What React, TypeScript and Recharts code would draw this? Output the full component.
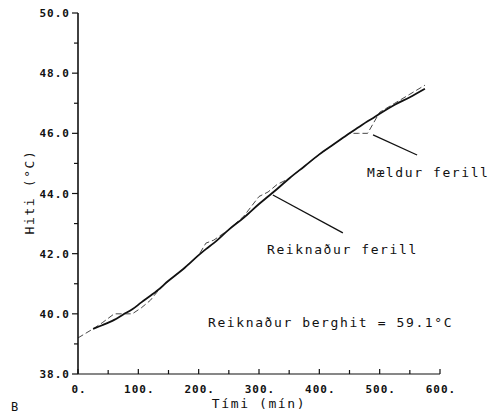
import { LineChart, Line, XAxis, YAxis, ReferenceLine } from 'recharts';

// time (min)
const timeMin = [0, 25, 40, 60, 75, 90, 105, 120, 130, 150, 175, 200, 212, 225, 250, 275, 300, 315, 330, 350, 375, 400, 425, 450, 465, 480, 490, 500, 525, 550, 575];
// Reiknaður ferill (solid)
const calculated = [null, 39.5, 39.62, 39.8, 39.98, 40.15, 40.38, 40.6, 40.75, 41.1, 41.5, 41.95, 42.15, 42.35, 42.8, 43.2, 43.65, 43.9, 44.15, 44.5, 44.9, 45.3, 45.65, 46.0, 46.2, 46.4, 46.52, 46.65, 46.95, 47.2, 47.48];
// Mældur ferill (dashed)
const measured = [39.2, 39.5, 39.7, 40.0, 40.0, 40.0, 40.2, 40.45, 40.7, 41.1, 41.5, 41.95, 42.35, 42.45, 42.8, 43.25, 43.9, 44.05, 44.3, 44.5, 44.9, 45.3, 45.65, 46.0, 46.0, 46.0, 46.35, 46.7, 47.0, 47.3, 47.6];

const xTicks = [0, 50, 100, 150, 200, 250, 300, 350, 400, 450, 500, 550, 600];
const yTicks = [38, 39, 40, 41, 42, 43, 44, 45, 46, 47, 48, 49, 50];

// leader lines [t, value] pairs
const measuredLeader = [{ x: 489, y: 45.95 }, { x: 562, y: 45.28 }];
const calculatedLeader = [{ x: 323, y: 43.95 }, { x: 439, y: 42.69 }];

const data = timeMin.map((t, i) => ({ t, calc: calculated[i], meas: measured[i] }));

const INK = '#111';
const plotFont = { fontFamily: '"DejaVu Sans Mono", monospace', fill: INK };

const XTick = (props: any) => {
  const { x, y, payload } = props;
  const v = payload.value;
  const major = v % 100 === 0;
  return (
    <g>
      <line x1={x} x2={x} y1={y} y2={y - (major ? 5 : 4)} stroke={INK} strokeWidth={1.2} />
      {major && (
        <text x={x + 1} y={y + 19} textAnchor="middle" fontSize={11} fontWeight="bold" letterSpacing={1} {...plotFont}>
          {`${v}.`}
        </text>
      )}
    </g>
  );
};

const YTick = (props: any) => {
  const { x, y, payload } = props;
  const v = payload.value;
  const major = v % 2 === 0;
  return (
    <g>
      <line x1={x} x2={x - (major ? 6 : 4)} y1={y} y2={y} stroke={INK} strokeWidth={1.2} />
      {major && (
        <text x={x - 8} y={y + 4} textAnchor="end" fontSize={11} fontWeight="bold" letterSpacing={1} {...plotFont}>
          {v.toFixed(1)}
        </text>
      )}
    </g>
  );
};

const labelStyle = { fontSize: 13, letterSpacing: 1.6, ...plotFont };

export default function App() {
  return (
    <div style={{ position: 'absolute', left: 0, top: 0, background: '#fff' }}>
      <LineChart width={495} height={416} data={data} margin={{ top: 13, right: 55, left: 18, bottom: 12 }}>
        <XAxis
          dataKey="t"
          type="number"
          domain={[0, 600]}
          ticks={xTicks}
          interval={0}
          height={30}
          tickSize={0}
          tickMargin={0}
          tickLine={false}
          tick={<XTick />}
          stroke={INK}
          strokeWidth={1.2}
        />
        <YAxis
          type="number"
          domain={[38, 50]}
          ticks={yTicks}
          interval={0}
          width={60}
          tickSize={0}
          tickMargin={0}
          tickLine={false}
          tick={<YTick />}
          stroke={INK}
          strokeWidth={1.6}
        />
        <Line dataKey="meas" type="linear" stroke="#333" strokeWidth={0.9} strokeDasharray="6 3" dot={false} isAnimationActive={false} />
        <Line dataKey="calc" type="monotone" stroke={INK} strokeWidth={1.8} dot={false} isAnimationActive={false} />
        <ReferenceLine segment={measuredLeader} stroke={INK} strokeWidth={1.3} />
        <ReferenceLine segment={calculatedLeader} stroke={INK} strokeWidth={1.3} />
        <text x={367} y={177} {...labelStyle}>Mældur ferill</text>
        <text x={267} y={254} {...labelStyle}>Reiknaður ferill</text>
        <text x={208} y={327} {...labelStyle}>Reiknaður berghit = 59.1°C</text>
        <text x={259} y={408} textAnchor="middle" {...labelStyle}>Tími (mín)</text>
        <text x={34} y={192} textAnchor="middle" transform="rotate(-90 34 192)" {...labelStyle}>Hiti (°C)</text>
        <text x={11} y={411} fontSize={12} {...plotFont}>B</text>
      </LineChart>
    </div>
  );
}
